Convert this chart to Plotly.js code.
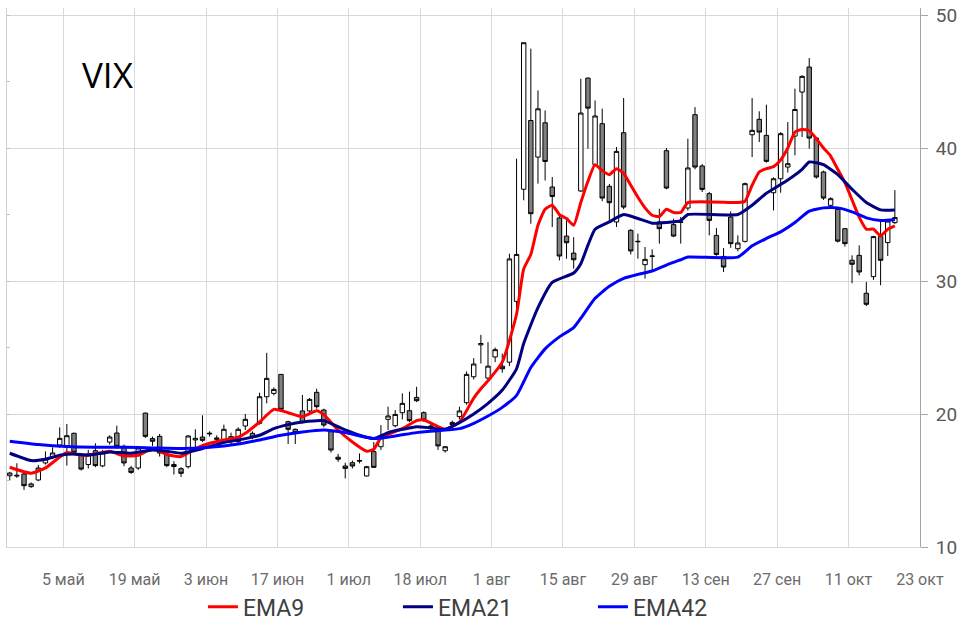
<!DOCTYPE html>
<html>
<head>
<meta charset="utf-8">
<script src="https://cdn.plot.ly/plotly-3.0.1.min.js"></script>
<style>
  html, body { margin: 0; padding: 0; background: #ffffff; }
  #chart { width: 970px; height: 624px; }
</style>
</head>
<body>
<div id="chart"></div>
<script>
// ---- Data (VIX daily candles, 26 Apr – 20 Oct 2011, one entry per trading day) ----
var openVals = [15.36,15.4,15.49,14.54,15.04,16.32,16.79,17.67,17.49,18.55,
  16.87,16.2,17.24,16.1,17.89,18.57,17.57,15.94,15.94,20.07,
  18.15,18.32,17.0,16.2,15.89,16.04,18.05,18.27,18.5,18.2,
  17.95,18.3,17.92,19.1,18.55,19.3,21.3,21.55,22.98,19.42,
  18.85,20.23,20.23,21.63,20.3,18.67,16.75,16.09,16.34,16.45,
  15.34,17.17,17.54,19.6,19.12,20.1,20.25,21.25,20.1,19.1,
  18.8,17.24,19.37,19.8,20.85,22.8,25.2,22.7,24.29,23.6,
  23.9,28.47,36.9,42.07,39.32,41.9,37.07,34.74,33.38,32.1,
  36.77,45.26,38.75,41.83,37.12,34.44,41.15,33.81,32.95,31.23,
  31.85,34.44,39.8,34.24,34.4,35.49,42.51,38.65,36.57,33.43,
  31.85,34.81,32.43,32.98,41.0,42.16,40.95,36.64,37.69,38.57,
  40.9,44.21,46.09,40.75,38.2,35.69,35.39,33.94,31.56,31.93,
  29.08,30.33,33.34,32.89,34.39];
var highVals = [15.65,16.3,15.6,14.85,16.17,17.19,17.49,19.0,19.25,18.6,
  16.95,17.3,17.8,17.3,18.4,19.12,17.7,16.1,17.6,20.1,
  18.3,18.5,17.2,16.45,16.0,18.4,18.85,19.9,18.7,18.4,
  19.2,18.6,19.0,20.0,18.7,21.6,24.6,22.0,23.0,19.5,
  18.9,21.43,21.2,21.9,20.4,18.7,17.0,16.34,16.5,17.04,
  16.1,17.9,19.17,20.55,20.3,21.55,21.68,22.05,20.2,19.3,
  18.9,17.6,19.5,20.55,23.2,24.2,25.95,25.4,25.0,24.54,
  32.05,39.2,47.92,47.47,44.33,42.83,37.82,34.9,34.56,33.3,
  45.21,45.3,43.58,42.96,37.3,40.08,43.76,33.9,33.56,32.56,
  32.38,35.44,40.0,34.69,34.81,40.7,43.08,38.8,36.7,33.98,
  32.48,35.24,33.43,37.4,43.76,42.76,43.26,37.8,41.2,41.95,
  44.46,45.47,46.77,40.8,38.3,36.3,35.5,33.94,31.93,32.68,
  29.93,33.4,34.5,34.6,36.84];
var lowVals = [15.0,15.2,14.29,14.45,14.95,16.2,16.6,17.45,16.12,17.0,
  15.75,15.9,16.0,16.0,17.7,17.4,16.07,15.5,15.8,18.2,
  17.6,16.8,16.0,15.45,15.27,15.9,17.3,17.9,18.3,17.5,
  17.8,17.7,17.8,18.8,18.1,19.2,20.8,21.4,20.2,17.74,
  17.74,19.3,20.1,20.4,19.0,17.1,16.4,15.16,15.9,16.29,
  15.3,15.95,17.3,18.8,19.0,19.6,19.4,20.9,19.4,18.8,
  17.3,17.1,19.0,19.6,20.7,22.6,23.8,22.5,23.9,23.1,
  23.6,27.7,36.07,34.31,37.32,37.56,34.06,31.55,31.68,30.93,
  36.7,39.95,38.6,36.0,34.56,34.06,35.4,32.0,31.68,30.18,
  30.8,32.81,36.9,33.3,32.81,35.3,38.4,36.69,33.43,31.9,
  30.68,32.5,32.23,32.9,39.32,40.45,38.9,35.31,36.64,38.15,
  39.45,40.83,39.95,37.7,36.1,35.6,32.9,32.59,29.83,30.43,
  28.12,30.08,29.68,31.88,34.3];
var closeVals = [15.56,15.35,14.61,14.74,15.94,16.62,17.07,18.17,18.37,17.12,
  15.86,17.0,16.12,17.07,18.27,17.57,16.32,15.61,17.44,18.32,
  17.95,17.07,16.12,16.05,15.54,18.35,18.17,18.02,18.55,18.1,
  18.85,17.95,18.85,19.6,18.25,21.3,22.68,21.85,20.35,18.85,
  18.6,19.35,21.1,20.55,19.17,17.29,16.6,15.91,16.09,16.5,
  16.04,15.99,18.35,19.85,19.97,20.8,19.5,21.0,19.55,19.05,
  17.6,17.54,19.2,20.23,22.98,23.76,25.3,23.6,24.84,23.4,
  31.66,32.0,47.92,35.06,42.95,38.99,36.36,31.88,32.88,31.6,
  42.63,43.0,42.41,36.24,35.89,39.75,35.56,32.26,32.98,31.63,
  31.88,33.94,36.99,33.38,34.44,38.5,38.57,36.89,34.56,32.0,
  31.05,32.81,32.86,37.32,41.33,41.2,39.0,37.69,41.08,38.82,
  42.9,45.39,40.75,37.82,36.24,36.19,33.0,32.81,31.26,30.68,
  28.25,33.34,31.56,34.51,34.77];

// Moving-average lines (trading-day index : value)
var ema9Idx = [0,3,5,8,10,12,14,16,18,20,22,24,26,28,30,32,33,35,37,39,41,43,44,46,48,50,51,52,55,57,58,60,61,63,65,66,67,69,71,72,73,74,75,76,77,78,79,80,81,82,83,84,85,86,87,88,89,90,91,92,93,94,95,102,103,104,105,106,107,108,109,110,111,112,113,114,115,116,117,118,119,120,121,122,123,124];
var ema9Vals = [16.0,15.55,15.95,17.1,16.9,17.0,17.2,16.85,16.9,17.4,16.95,16.8,17.4,17.8,18.05,18.25,18.55,19.4,20.35,20.1,19.8,20.25,19.95,18.8,17.9,17.2,17.35,18.2,18.9,19.5,19.55,19.05,18.85,19.4,21.2,21.9,22.5,23.9,27.5,30.9,32.0,34.2,35.4,35.7,35.0,34.7,34.2,35.9,37.5,38.75,38.3,38.0,38.45,38.1,37.2,36.3,35.5,34.95,34.85,35.4,35.15,35.15,35.9,35.9,36.0,37.2,38.2,38.45,38.6,39.1,40.0,41.2,41.4,41.3,40.7,40.0,39.4,38.4,37.4,36.1,34.8,33.9,33.9,33.4,33.9,34.15];

var ema21Idx = [0,3,5,7,9,11,14,17,20,22,24,27,30,33,35,37,39,41,44,47,49,51,53,55,57,59,61,63,65,67,69,71,72,74,76,79,80,81,82,84,86,88,90,92,94,95,102,104,106,109,111,112,113,114,116,118,120,122,124];
var ema21Vals = [17.05,16.5,16.6,16.9,17.0,16.9,17.15,17.05,17.3,17.2,17.05,17.4,17.85,18.15,18.4,18.9,19.2,19.4,19.5,18.8,18.4,18.15,18.6,18.85,19.05,18.95,18.85,19.35,20.0,20.8,21.8,23.4,25.3,28.0,29.9,30.6,31.3,32.7,33.9,34.45,35.0,34.7,34.35,34.4,34.55,35.0,35.0,35.7,36.6,37.6,38.4,38.95,38.9,38.75,38.0,36.9,35.9,35.35,35.35];

var ema42Idx = [0,4,8,12,16,20,24,28,32,35,38,41,44,47,51,54,57,60,63,65,67,69,71,73,75,77,79,80,82,84,86,88,90,92,94,95,102,104,106,108,110,112,114,116,118,120,122,124];
var ema42Vals = [17.95,17.7,17.55,17.5,17.5,17.45,17.4,17.5,17.75,18.05,18.4,18.65,18.8,18.6,18.15,18.35,18.6,18.75,18.9,19.3,19.85,20.5,21.4,23.5,24.9,25.8,26.5,27.2,28.7,29.6,30.2,30.5,30.75,31.2,31.6,31.8,31.8,32.65,33.2,33.7,34.4,35.25,35.5,35.5,35.2,34.75,34.55,34.6];

// Axis tick labels (one every 10 trading days)
var tickLabels = ['5 май','19 май','3 июн','17 июн','1 июл','18 июл','1 авг','15 авг','29 авг','13 сен','27 сен','11 окт','23 окт'];
var yTicks = [10, 20, 30, 40, 50];
var seriesNames = ['EMA9', 'EMA21', 'EMA42'];

// ---- Build traces ----
var dayIdx = closeVals.map(function (_, i) { return i; });
var tickPos = tickLabels.map(function (_, k) { return 7.5 + 10 * k; });

var uiFont = 'Roboto, "Liberation Sans Narrow", "Noto Sans", sans-serif';

var candles = {
  type: 'candlestick',
  x: dayIdx,
  open: openVals, high: highVals, low: lowVals, close: closeVals,
  increasing: { line: { color: '#000000', width: 1 }, fillcolor: '#ffffff' },
  decreasing: { line: { color: '#000000', width: 1 }, fillcolor: '#808080' },
  whiskerwidth: 0,
  showlegend: false,
  hoverinfo: 'skip'
};

function emaTrace(name, xs, ys, color) {
  return {
    type: 'scatter', mode: 'lines', name: name,
    x: xs, y: ys,
    line: { color: color, width: 3, shape: 'spline', smoothing: 0.5 },
    hoverinfo: 'skip'
  };
}

var dummyLeft = { type: 'scatter', x: [null], y: [null], yaxis: 'y2', showlegend: false, hoverinfo: 'skip' };

var traces = [
  candles,
  emaTrace(seriesNames[0], ema9Idx, ema9Vals, '#ff0000'),
  emaTrace(seriesNames[1], ema21Idx, ema21Vals, '#000080'),
  emaTrace(seriesNames[2], ema42Idx, ema42Vals, '#0000ff'),
  dummyLeft
];

var yRange = [10, 50.53];

var layout = {
  width: 970, height: 624,
  margin: { l: 7, r: 50, t: 8, b: 77, pad: 0, autoexpand: false },
  paper_bgcolor: '#ffffff', plot_bgcolor: '#ffffff',
  showlegend: true,
  boxgap: 0.12,
  xaxis: {
    type: 'linear',
    range: [-0.385, 127.52],
    tickvals: tickPos, ticktext: tickLabels,
    showgrid: true, gridcolor: '#d9d9d9', gridwidth: 1,
    zeroline: false,
    showline: true, linecolor: '#d9d9d9', linewidth: 1,
    ticks: '',
    automargin: false,
    ticklabelstandoff: 18,
    tickfont: { family: uiFont, size: 16, color: '#6b6b6b' },
    rangeslider: { visible: false },
    fixedrange: true
  },
  yaxis: {
    side: 'right',
    range: yRange,
    tickvals: yTicks,
    showgrid: true, gridcolor: '#d9d9d9', gridwidth: 1,
    zeroline: false,
    showline: true, linecolor: '#a6a6a6', linewidth: 1,
    ticks: 'outside', ticklen: 7, tickcolor: '#a6a6a6',
    ticklabelstandoff: 4,
    automargin: false,
    tickfont: { family: uiFont, size: 19, color: '#595959' },
    fixedrange: true
  },
  yaxis2: {
    overlaying: 'y', side: 'left',
    range: yRange,
    dtick: 5, tick0: 10,
    showgrid: false, zeroline: false,
    showline: true, linecolor: '#d0d0d0', linewidth: 1,
    ticks: 'inside', ticklen: 3, tickcolor: '#c0c0c0',
    showticklabels: false,
    automargin: false,
    fixedrange: true
  },
  legend: {
    orientation: 'h',
    x: 0.535, xanchor: 'center',
    y: -0.111, yanchor: 'middle',
    font: { family: uiFont, size: 23, color: '#404040' },
    entrywidth: 150, entrywidthmode: 'pixels',
    bgcolor: 'rgba(0,0,0,0)'
  },
  annotations: [{
    text: 'VIX',
    xref: 'paper', yref: 'paper',
    x: 0.08, y: 0.876, xanchor: 'left', yanchor: 'middle',
    showarrow: false,
    font: { family: '"Open Sans", "Noto Sans", sans-serif', size: 35, color: '#000000' }
  }]
};

Plotly.newPlot('chart', traces, layout, { staticPlot: true, displayModeBar: false });
</script>
</body>
</html>
